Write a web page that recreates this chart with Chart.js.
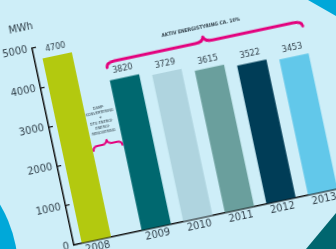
<!doctype html>
<html lang="da">
    <head>
        <meta charset="UTF-8" />
        <title>Energiforbrug MWh 2008-2013</title>
        <script src="https://cdn.jsdelivr.net/npm/chart.js"></script>
        <style>
            html,
            body {
                margin: 0;
                padding: 0;
            }
            body {
                width: 336px;
                height: 249px;
                overflow: hidden;
                position: relative;
                background: #ceeef8;
            }
            .deco {
                position: absolute;
            }
            #cornerTop {
                left: 308px;
                top: 0;
                width: 28px;
                height: 16px;
                background: #00a7d9;
                clip-path: polygon(0 0, 100% 0, 100% 100%);
            }
            #cornerBottom {
                left: 306px;
                top: 213px;
                width: 30px;
                height: 36px;
                background: #00666f;
                clip-path: polygon(100% 0, 100% 100%, 0 100%);
            }
            #arc {
                left: -238px;
                top: 142px;
                width: 256px;
                height: 256px;
                border-radius: 50%;
                background: #00a8d9;
            }
            #wrap {
                position: absolute;
                left: 24px;
                top: -6px;
                width: 390px;
                height: 300px;
                transform-origin: 50px 251px;
                transform: rotate(-12deg);
            }
        </style>
    </head>
    <body>
        <div class="deco" id="cornerTop"></div>
        <div class="deco" id="cornerBottom"></div>
        <div class="deco" id="arc"></div>
        <div id="wrap"><canvas id="myChart" width="390" height="300"></canvas></div>
        <script>
            // data
            var years = ["2008", "2009", "2010", "2011", "2012", "2013"];
            var consumption = [4700, 3820, 3729, 3615, 3522, 3453];
            var barColors = ["#b3c90f", "#00686f", "#afd4df", "#6a9f9d", "#003d57", "#62c8ea"];
            var yTicks = [0, 1000, 2000, 3000, 4000, 5000];
            var bigNote = "AKTIV ENERGISTYRING CA. 10%";
            var smallNote = ["DAMP-", "KONVERTERING", "+", "DTU ENERGI-", "ENERGI-", "RENOVERING"];

            var FONT = "'Liberation Sans Narrow', 'DejaVu Sans Condensed', 'Liberation Sans', sans-serif";
            var INK = "#33424c";
            var MAGENTA = "#e3007d";
            var GAP = 0.44; // extra room after 2008 for the note

            var xPos = years.map(function (y, i) {
                return i + (i > 0 ? GAP : 0);
            });
            var points = xPos.map(function (x, i) {
                return { x: x, y: consumption[i] };
            });

            function brace(ctx, x1, x2, yb, h, r) {
                var xm = (x1 + x2) / 2;
                ctx.beginPath();
                ctx.moveTo(x1, yb + h);
                ctx.quadraticCurveTo(x1, yb, x1 + r, yb);
                ctx.lineTo(xm - r, yb);
                ctx.quadraticCurveTo(xm - 1, yb, xm, yb - h);
                ctx.quadraticCurveTo(xm + 1, yb, xm + r, yb);
                ctx.lineTo(x2 - r, yb);
                ctx.quadraticCurveTo(x2, yb, x2, yb + h);
                ctx.stroke();
            }

            var annotate = {
                id: "annotate",
                afterDatasetsDraw: function (chart) {
                    var ctx = chart.ctx;
                    var area = chart.chartArea;
                    var y = chart.scales.y;
                    var bars = chart.getDatasetMeta(0).data;
                    ctx.save();

                    // values above the bars
                    ctx.fillStyle = INK;
                    ctx.font = "9px " + FONT;
                    ctx.textAlign = "center";
                    ctx.textBaseline = "bottom";
                    bars.forEach(function (b, i) {
                        ctx.fillText(consumption[i], b.x, b.y - 4);
                    });

                    // unit
                    ctx.font = "11px " + FONT;
                    ctx.textBaseline = "middle";
                    ctx.fillText("MWh", area.left - 7, area.top - 22);

                    // big brace over 2009-2013
                    ctx.strokeStyle = MAGENTA;
                    ctx.lineCap = "round";
                    ctx.lineJoin = "round";
                    ctx.lineWidth = 3;
                    var bx1 = bars[1].x - bars[1].width / 2;
                    var bx2 = bars[5].x + bars[5].width / 2;
                    var by = y.getPixelForValue(4270);
                    brace(ctx, bx1, bx2, by, 5, 9);
                    ctx.font = "bold 5px " + FONT;
                    ctx.fillText(bigNote, (bx1 + bx2) / 2, by - 15);

                    // small brace in the gap
                    ctx.lineWidth = 2;
                    var sx1 = bars[0].x + bars[0].width / 2 + 1;
                    var sx2 = bars[1].x - bars[1].width / 2 - 1;
                    var sy = y.getPixelForValue(2290);
                    brace(ctx, sx1, sx2, sy, 4, 5);
                    ctx.font = "4px " + FONT;
                    smallNote.forEach(function (line, i) {
                        ctx.fillText(line, (sx1 + sx2) / 2 - 1, sy - 37 + i * 5);
                    });
                    ctx.restore();
                }
            };

            var ctx = document.getElementById("myChart").getContext("2d");
            var chart = new Chart(ctx, {
                type: "bar",
                data: {
                    datasets: [
                        {
                            data: points,
                            backgroundColor: barColors,
                            borderWidth: 0,
                            categoryPercentage: 0.8,
                            barPercentage: 0.88
                        }
                    ]
                },
                options: {
                    responsive: false,
                    animation: false,
                    devicePixelRatio: 1,
                    layout: { padding: { left: 10, top: 50, right: 10, bottom: 29 } },
                    plugins: {
                        legend: { display: false },
                        tooltip: { enabled: false }
                    },
                    scales: {
                        x: {
                            type: "linear",
                            offset: false,
                            min: -0.54,
                            max: 7.22,
                            grid: { display: false, drawTicks: false },
                            border: { display: true, color: "#111", width: 1.5 },
                            afterBuildTicks: function (scale) {
                                scale.ticks = xPos.map(function (v) {
                                    return { value: v };
                                });
                            },
                            afterFit: function (scale) {
                                scale.height = 20;
                            },
                            ticks: {
                                autoSkip: false,
                                maxRotation: 0,
                                padding: 1,
                                color: INK,
                                font: { family: FONT, size: 11 },
                                callback: function (value, index) {
                                    return years[index];
                                }
                            }
                        },
                        y: {
                            min: yTicks[0],
                            max: yTicks[yTicks.length - 1],
                            grid: {
                                display: true,
                                drawOnChartArea: false,
                                drawTicks: true,
                                tickLength: -4,
                                color: "#111",
                                lineWidth: 1.2
                            },
                            border: { display: true, color: "#111", width: 1.5 },
                            afterBuildTicks: function (scale) {
                                scale.ticks = yTicks.map(function (v) {
                                    return { value: v };
                                });
                            },
                            afterFit: function (scale) {
                                scale.width = 40;
                            },
                            ticks: {
                                padding: 9,
                                color: INK,
                                font: { family: FONT, size: 11 },
                                callback: function (value) {
                                    return String(value);
                                }
                            }
                        }
                    }
                },
                plugins: [annotate]
            });
        </script>
    </body>
</html>
